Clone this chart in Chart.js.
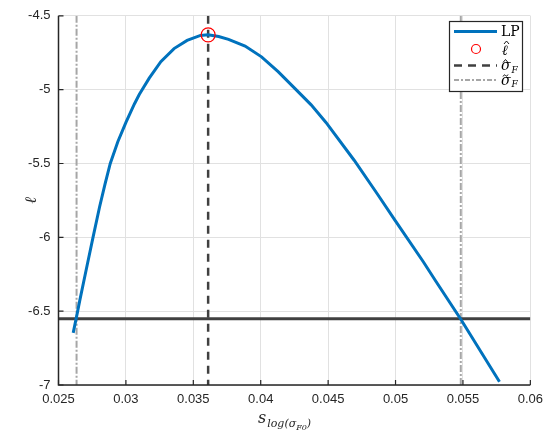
<!DOCTYPE html>
<html>
<head>
<meta charset="utf-8">
<script src="https://cdn.jsdelivr.net/npm/chart.js@4"></script>
<style>
html, body { margin: 0; padding: 0; background: #fff; }
#wrap { width: 550px; height: 435px; }
</style>
</head>
<body>
<div id="wrap"><canvas id="llChart"></canvas></div>
<script>
// profile likelihood samples
const sValues = [0.02609, 0.02634, 0.02658, 0.02707, 0.02756, 0.02805, 0.02845, 0.02884,
    0.02940, 0.03001, 0.03063, 0.03099, 0.03173, 0.03259, 0.03357, 0.03454, 0.03553,
    0.03609, 0.03688, 0.03761, 0.03884, 0.04006, 0.04129, 0.04251, 0.04374, 0.04484,
    0.04693, 0.04864, 0.04999, 0.05207, 0.05293, 0.05484, 0.05771];
const lpValues = [-6.647, -6.537, -6.427, -6.213, -6.000, -5.793, -5.640, -5.500,
    -5.353, -5.220, -5.097, -5.033, -4.922, -4.811, -4.722, -4.667, -4.633,
    -4.629, -4.640, -4.660, -4.705, -4.778, -4.878, -4.990, -5.103, -5.222,
    -5.478, -5.705, -5.889, -6.167, -6.289, -6.555, -6.978];

const peakS = 0.0361;
const peakL = -4.629;
const sigmaHat = 0.0361;
const sigmaTilde = [0.02634, 0.05484];
const threshold = -6.551;

const xTicks = [0.025, 0.03, 0.035, 0.04, 0.045, 0.05, 0.055, 0.06];
const yTicks = [-7, -6.5, -6, -5.5, -5, -4.5];

const xMin = 0.025, xMax = 0.06, yMin = -7, yMax = -4.5;

const axisColor = '#262626';
const tickFont = { family: 'Liberation Sans, Arial, sans-serif', size: 13 };

function fmt(v) {
    return String(Number(v.toFixed(4)));
}

// small circumflex above a glyph
function drawHat(ctx, x, y, w) {
    ctx.beginPath();
    ctx.moveTo(x - w / 2, y + 2);
    ctx.lineTo(x, y - 1);
    ctx.lineTo(x + w / 2, y + 2);
    ctx.stroke();
}

// draws the MATLAB style axes, labels and legend
const matlabLook = {
    id: 'matlabLook',
    afterDraw(chart) {
        const ctx = chart.ctx;
        const area = chart.chartArea;
        const xs = chart.scales.x;
        const ys = chart.scales.y;

        ctx.save();
        ctx.strokeStyle = axisColor;
        ctx.lineWidth = 1.5;
        ctx.beginPath();
        ctx.moveTo(area.left, area.top);
        ctx.lineTo(area.left, area.bottom);
        ctx.lineTo(area.right, area.bottom);
        ctx.stroke();

        ctx.lineWidth = 1.2;
        ctx.beginPath();
        xTicks.forEach(v => {
            const px = xs.getPixelForValue(v);
            ctx.moveTo(px, area.bottom);
            ctx.lineTo(px, area.bottom - 5);
        });
        yTicks.forEach(v => {
            const py = ys.getPixelForValue(v);
            ctx.moveTo(area.left, py);
            ctx.lineTo(area.left + 5, py);
        });
        ctx.stroke();

        // y axis title
        ctx.fillStyle = axisColor;
        ctx.font = 'italic 16px "DejaVu Serif", serif';
        ctx.textAlign = 'center';
        ctx.textBaseline = 'middle';
        ctx.translate(32, (area.top + area.bottom) / 2);
        ctx.rotate(-Math.PI / 2);
        ctx.fillText('ℓ', 0, 0);
        ctx.restore();

        // x axis title  s_{log(sigma_F0)}
        ctx.save();
        ctx.fillStyle = axisColor;
        ctx.textBaseline = 'alphabetic';
        ctx.textAlign = 'left';
        const base = 423;
        let cx = 258;
        ctx.font = 'italic 16px "DejaVu Serif", serif';
        ctx.fillText('s', cx, base);
        cx += ctx.measureText('s').width + 1;
        ctx.font = 'italic 11px "DejaVu Serif", serif';
        ctx.fillText('log(σ', cx, base + 4);
        cx += ctx.measureText('log(σ').width;
        ctx.font = 'italic 8px "DejaVu Serif", serif';
        ctx.fillText('F0', cx, base + 7);
        cx += ctx.measureText('F0').width;
        ctx.font = 'italic 11px "DejaVu Serif", serif';
        ctx.fillText(')', cx, base + 4);
        ctx.restore();

        // legend
        ctx.save();
        const lx = 449.5, ly = 21.5, lw = 73, lh = 70;
        ctx.fillStyle = '#fff';
        ctx.fillRect(lx, ly, lw, lh);
        ctx.strokeStyle = axisColor;
        ctx.lineWidth = 1.2;
        ctx.strokeRect(lx, ly, lw, lh);

        const rows = [31.5, 49, 65.5, 80];
        const sx0 = 454, sx1 = 497, tx = 501;

        ctx.strokeStyle = '#0072BD';
        ctx.lineWidth = 3;
        ctx.beginPath(); ctx.moveTo(sx0, rows[0]); ctx.lineTo(sx1, rows[0]); ctx.stroke();

        ctx.strokeStyle = '#ff0000';
        ctx.lineWidth = 1.2;
        ctx.beginPath(); ctx.arc(476, rows[1], 4.5, 0, Math.PI * 2); ctx.stroke();

        ctx.strokeStyle = '#404040';
        ctx.lineWidth = 2.5;
        ctx.setLineDash([8, 6]);
        ctx.beginPath(); ctx.moveTo(sx0, rows[2]); ctx.lineTo(sx1, rows[2]); ctx.stroke();

        ctx.strokeStyle = '#a6a6a6';
        ctx.lineWidth = 2;
        ctx.setLineDash([5, 2, 2, 2]);
        ctx.beginPath(); ctx.moveTo(sx0, rows[3]); ctx.lineTo(sx1, rows[3]); ctx.stroke();
        ctx.setLineDash([]);

        ctx.fillStyle = '#000';
        ctx.strokeStyle = '#000';
        ctx.textAlign = 'left';
        ctx.textBaseline = 'middle';
        ctx.font = '14px "DejaVu Serif", serif';
        ctx.fillText('LP', tx, rows[0] + 1);
        ctx.font = 'italic 14px "DejaVu Serif", serif';
        ctx.fillText('ℓ', tx + 1, rows[1] + 2);
        ctx.fillText('σ', tx, rows[2] + 1);
        ctx.fillText('σ', tx, rows[3] + 1);
        const sw = ctx.measureText('σ').width;
        ctx.lineWidth = 0.9;
        drawHat(ctx, tx + 5.5, rows[1] - 7, 5);
        drawHat(ctx, tx + 4.5, rows[2] - 5, 5);
        // tilde
        ctx.beginPath();
        ctx.moveTo(tx + 2, rows[3] - 3.5);
        ctx.quadraticCurveTo(tx + 3.5, rows[3] - 6.5, tx + 4.5, rows[3] - 4.5);
        ctx.quadraticCurveTo(tx + 5.5, rows[3] - 2.5, tx + 7, rows[3] - 5.5);
        ctx.stroke();
        ctx.font = 'italic 9px "DejaVu Serif", serif';
        ctx.fillText('F', tx + sw + 1, rows[2] + 5);
        ctx.fillText('F', tx + sw + 1, rows[3] + 5);
        ctx.restore();
    }
};

const lpData = sValues.map((s, i) => ({ x: s, y: lpValues[i] }));

new Chart(document.getElementById('llChart'), {
    type: 'line',
    data: {
        datasets: [
            {
                label: 'threshold',
                data: [{ x: xMin, y: threshold }, { x: xMax, y: threshold }],
                borderColor: '#404040',
                borderWidth: 3,
                pointRadius: 0,
                order: 3
            },
            {
                label: 'σ̃F',
                data: [
                    { x: sigmaTilde[0], y: yMax }, { x: sigmaTilde[0], y: yMin },
                    { x: 0.04, y: null },
                    { x: sigmaTilde[1], y: yMin }, { x: sigmaTilde[1], y: yMax }
                ],
                borderColor: '#a6a6a6',
                borderWidth: 2,
                borderDash: [7, 2, 2, 2],
                pointRadius: 0,
                spanGaps: false,
                order: 4
            },
            {
                label: 'σ̂F',
                data: [{ x: sigmaHat, y: yMax }, { x: sigmaHat, y: yMin }],
                borderColor: '#404040',
                borderWidth: 2.5,
                borderDash: [8, 6],
                pointRadius: 0,
                order: 2
            },
            {
                label: 'LP',
                data: lpData,
                borderColor: '#0072BD',
                borderWidth: 3,
                pointRadius: 0,
                tension: 0,
                order: 1
            },
            {
                label: 'ℓ̂',
                data: [{ x: peakS, y: peakL }],
                showLine: false,
                pointRadius: 7,
                pointBorderWidth: 1.2,
                pointBorderColor: '#ff0000',
                pointBackgroundColor: 'rgba(0,0,0,0)',
                order: 0
            }
        ]
    },
    options: {
        responsive: true,
        maintainAspectRatio: false,
        animation: false,
        layout: { padding: { top: 10, right: 15.5, left: 0, bottom: 0 } },
        plugins: {
            legend: { display: false },
            tooltip: { enabled: false }
        },
        scales: {
            x: {
                type: 'linear',
                min: xMin,
                max: xMax,
                afterBuildTicks: scale => { scale.ticks = xTicks.map(v => ({ value: v })); },
                afterFit: scale => { scale.height = 50; },
                ticks: {
                    color: axisColor,
                    font: tickFont,
                    padding: 7,
                    maxRotation: 0,
                    autoSkip: false,
                    callback: v => fmt(v)
                },
                grid: { color: '#e1e1e1', lineWidth: 1, drawTicks: false },
                border: { display: false }
            },
            y: {
                min: yMin,
                max: yMax,
                afterBuildTicks: scale => { scale.ticks = yTicks.map(v => ({ value: v })); },
                afterFit: scale => { scale.width = 58.5; },
                ticks: {
                    color: axisColor,
                    font: tickFont,
                    padding: 8,
                    autoSkip: false,
                    callback: v => fmt(v)
                },
                grid: { color: '#e1e1e1', lineWidth: 1, drawTicks: false },
                border: { display: false }
            }
        }
    },
    plugins: [matlabLook]
});
</script>
</body>
</html>
